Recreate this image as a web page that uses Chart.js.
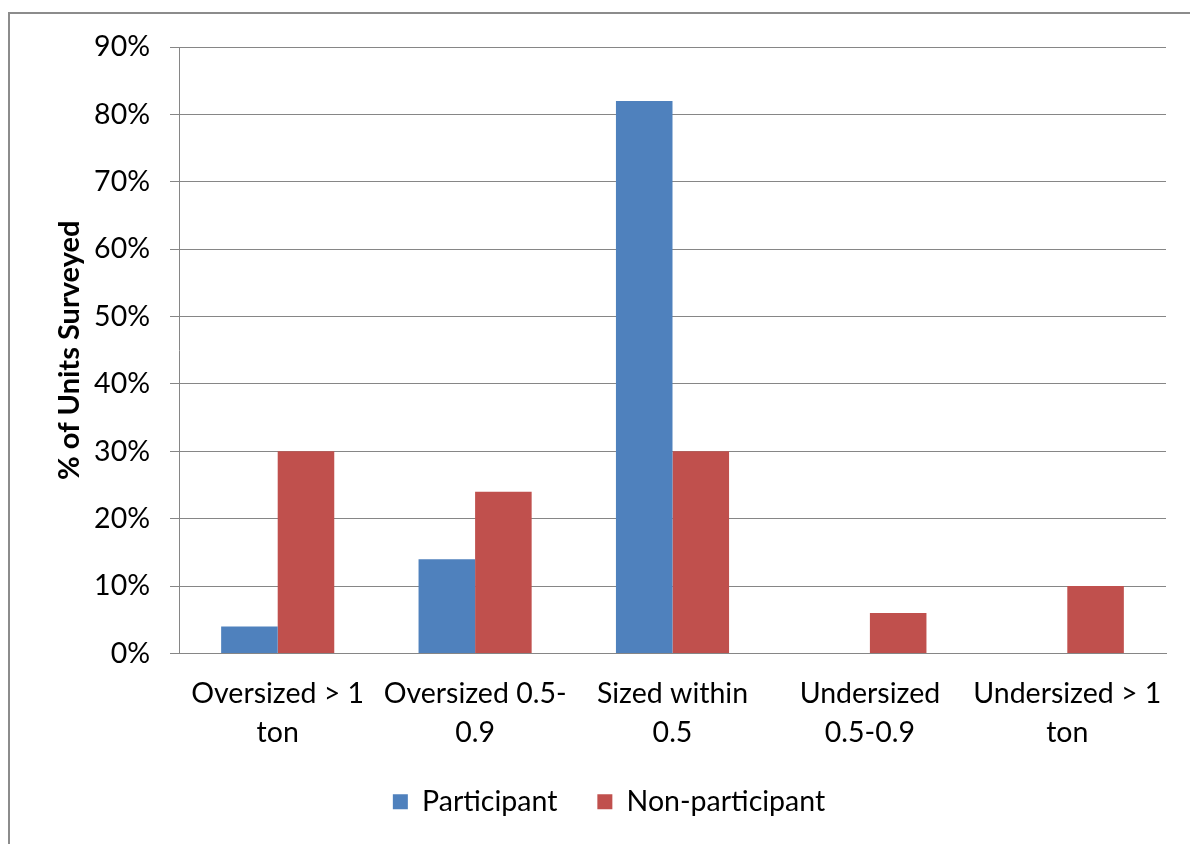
<!DOCTYPE html>
<html>
<head>
<meta charset="utf-8">
<script src="https://cdn.jsdelivr.net/npm/chart.js@4.4.1/dist/chart.umd.min.js"></script>
<style>
  html, body { margin: 0; padding: 0; background: #ffffff; }
  #wrap { width: 1190px; height: 844px; position: relative; }
</style>
</head>
<body>
<div id="wrap"><canvas id="chart" width="1190" height="844"></canvas></div>
<script>
// Sizing categories (tons relative to load calculation)
const categories = [
  ['Oversized > 1', 'ton'],
  ['Oversized 0.5-', '0.9'],
  ['Sized within', '0.5'],
  ['Undersized', '0.5-0.9'],
  ['Undersized > 1', 'ton']
];

// Share of surveyed units, in percent
const participant = [4, 14, 82, 0, 0];
const nonParticipant = [30, 24, 30, 6, 10];

// Value axis
const yMin = 0;
const yMax = 90;
const yStep = 10;

const FONT = 'Lato, "Open Sans", sans-serif';
const SIZE = 28.5;
const GRID = '#868686';

// Light grey frame along the top and left edges of the figure
const framePlugin = {
  id: 'frame',
  beforeDraw(chart) {
    const ctx = chart.ctx;
    ctx.save();
    ctx.strokeStyle = '#8c8c8c';
    ctx.lineWidth = 2;
    ctx.beginPath();
    ctx.moveTo(9, 844);
    ctx.lineTo(9, 13);
    ctx.lineTo(1190, 13);
    ctx.stroke();
    ctx.restore();
  }
};

new Chart(document.getElementById('chart'), {
  type: 'bar',
  data: {
    labels: categories,
    datasets: [
      { label: 'Participant', data: participant, backgroundColor: '#4F81BD',
        categoryPercentage: 0.573, barPercentage: 1.0 },
      { label: 'Non-participant', data: nonParticipant, backgroundColor: '#C0504D',
        categoryPercentage: 0.573, barPercentage: 1.0 }
    ]
  },
  options: {
    responsive: false,
    animation: false,
    layout: { padding: { left: 52, right: 24, top: 47, bottom: 18 } },
    plugins: {
      legend: {
        position: 'bottom',
        labels: {
          color: '#000',
          font: { family: FONT, size: SIZE },
          boxWidth: 15, boxHeight: 15,
          padding: 40
        }
      },
      tooltip: { enabled: false }
    },
    scales: {
      x: {
        grid: { display: false, drawTicks: false },
        border: { display: true, color: GRID, width: 1 },
        ticks: {
          color: '#000',
          font: { family: FONT, size: SIZE, lineHeight: 39 / SIZE },
          padding: 21,
          maxRotation: 0,
          autoSkip: false
        },
        afterFit(scale) { scale.height = 94; }
      },
      y: {
        min: yMin,
        max: yMax,
        grid: { color: GRID, lineWidth: 1, drawTicks: true, tickLength: 9, tickColor: GRID },
        border: { display: true, color: GRID, width: 1 },
        ticks: {
          stepSize: yStep,
          color: '#000',
          font: { family: FONT, size: SIZE },
          padding: 20,
          callback: v => v + '%'
        },
        title: {
          display: true,
          text: '% of Units Surveyed',
          color: '#000',
          font: { family: FONT, size: 29, weight: 'bold' },
          padding: { top: 0, bottom: 0 }
        },
        afterFit(scale) { scale.width = 179 - 52; }
      }
    }
  },
  plugins: [framePlugin]
});
</script>
</body>
</html>
